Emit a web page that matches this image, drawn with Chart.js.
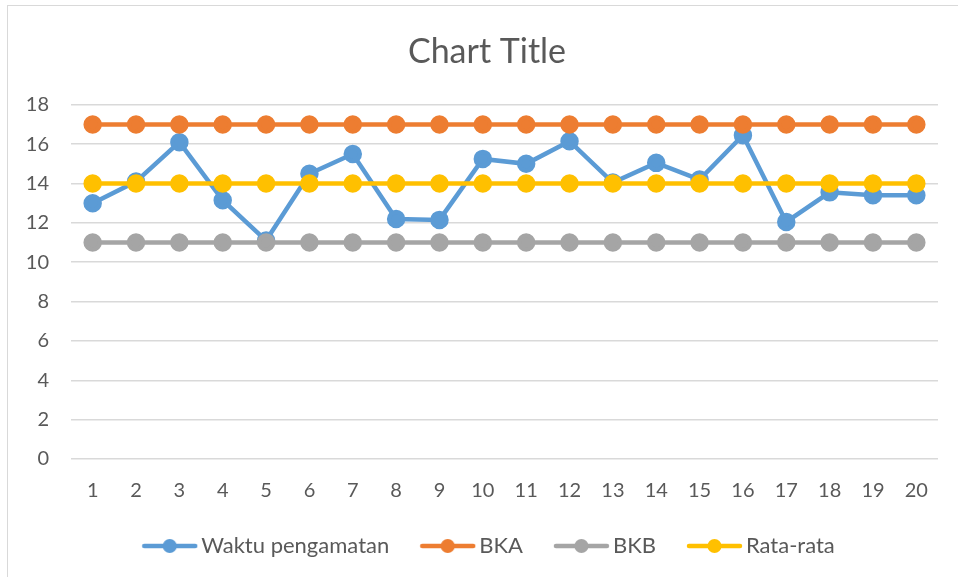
<!DOCTYPE html>
<html>
<head>
<meta charset="utf-8">
<script src="https://cdn.jsdelivr.net/npm/chart.js@4/dist/chart.umd.min.js"></script>
<style>
  html, body { margin: 0; padding: 0; background: #fff; overflow: hidden; }
  #frame { position: absolute; left: 7px; top: 5px; width: 980px; height: 600px; border: 1px solid #d9d9d9; }
  #wrap { position: absolute; left: 0; top: 0; width: 958px; height: 577px; }
</style>
</head>
<body>
<div id="frame"></div>
<div id="wrap"><canvas id="c"></canvas></div>
<script>
const labels = ["1","2","3","4","5","6","7","8","9","10","11","12","13","14","15","16","17","18","19","20"];
const waktu = [13.0, 14.1, 16.1, 13.15, 11.1, 14.5, 15.5, 12.2, 12.15, 15.25, 15.0, 16.15, 14.05, 15.05, 14.2, 16.45, 12.05, 13.55, 13.4, 13.4];
const bka = [17, 17, 17, 17, 17, 17, 17, 17, 17, 17, 17, 17, 17, 17, 17, 17, 17, 17, 17, 17];
const bkb = [11, 11, 11, 11, 11, 11, 11, 11, 11, 11, 11, 11, 11, 11, 11, 11, 11, 11, 11, 11];
const rata = [14, 14, 14, 14, 14, 14, 14, 14, 14, 14, 14, 14, 14, 14, 14, 14, 14, 14, 14, 14];

const txt = "#595959";
Chart.defaults.font.family = "Lato";
Chart.defaults.color = txt;

// legend marker: short line with a dot in the middle, like Excel
// (blank space on the left gives the gap between legend items)
function marker(color) {
  const cv = document.createElement("canvas");
  cv.width = 75; cv.height = 16;
  const g = cv.getContext("2d");
  g.strokeStyle = color; g.lineWidth = 4.5; g.lineCap = "round";
  g.beginPath(); g.moveTo(21, 8); g.lineTo(72, 8); g.stroke();
  g.fillStyle = color;
  g.beginPath(); g.arc(46.5, 8, 7, 0, Math.PI * 2); g.fill();
  return cv;
}

function serie(label, data, color, order) {
  return {
    label, data, order,
    borderColor: color, backgroundColor: color,
    pointBackgroundColor: color, pointBorderColor: color,
    borderWidth: 4.5, pointRadius: 7, pointHoverRadius: 7,
    tension: 0
  };
}

const ds = [
  serie("Waktu pengamatan", waktu, "#5B9BD5", 4),
  serie("BKA", bka, "#ED7D31", 3),
  serie("BKB", bkb, "#A5A5A5", 2),
  serie("Rata-rata", rata, "#FFC000", 1)
];

// title and legend sit centred on the whole frame, not on the canvas minus padding
const shiftBoxes = {
  id: "shiftBoxes",
  afterLayout(chart) {
    if (chart.titleBlock) chart.titleBlock.left += 36;
    if (chart.legend) chart.legend.left += 28;
  }
};

new Chart(document.getElementById("c"), {
  type: "line",
  data: { labels, datasets: ds },
  plugins: [shiftBoxes],
  options: {
    responsive: true,
    maintainAspectRatio: false,
    animation: false,
    layout: { padding: { left: 0, right: 20, top: 0, bottom: 10 } },
    plugins: {
      tooltip: { enabled: false },
      title: {
        display: true,
        text: "Chart Title",
        color: txt,
        font: { size: 34, weight: "normal" },
        padding: { top: 32, bottom: 32 }
      },
      legend: {
        position: "bottom",
        labels: {
          usePointStyle: true,
          pointStyleWidth: 59,
          padding: 20,
          color: txt,
          font: { size: 22 },
          generateLabels: (chart) => chart.data.datasets.map((d, i) => ({
            text: d.label,
            datasetIndex: i,
            pointStyle: marker(d.borderColor),
            fillStyle: d.borderColor,
            strokeStyle: d.borderColor,
            lineWidth: 0,
            fontColor: txt,
            hidden: false
          }))
        }
      }
    },
    scales: {
      x: {
        offset: true,
        grid: { display: false },
        border: { display: false },
        ticks: { padding: 12, font: { size: 20 }, color: txt, maxRotation: 0 }
      },
      y: {
        min: 0, max: 18,
        afterFit: (s) => { s.width = 71; },
        grid: { color: "#d9d9d9", lineWidth: 1.5, drawTicks: false },
        border: { display: false },
        ticks: { stepSize: 2, padding: 22, font: { size: 20 }, color: txt }
      }
    }
  }
});
</script>
</body>
</html>
